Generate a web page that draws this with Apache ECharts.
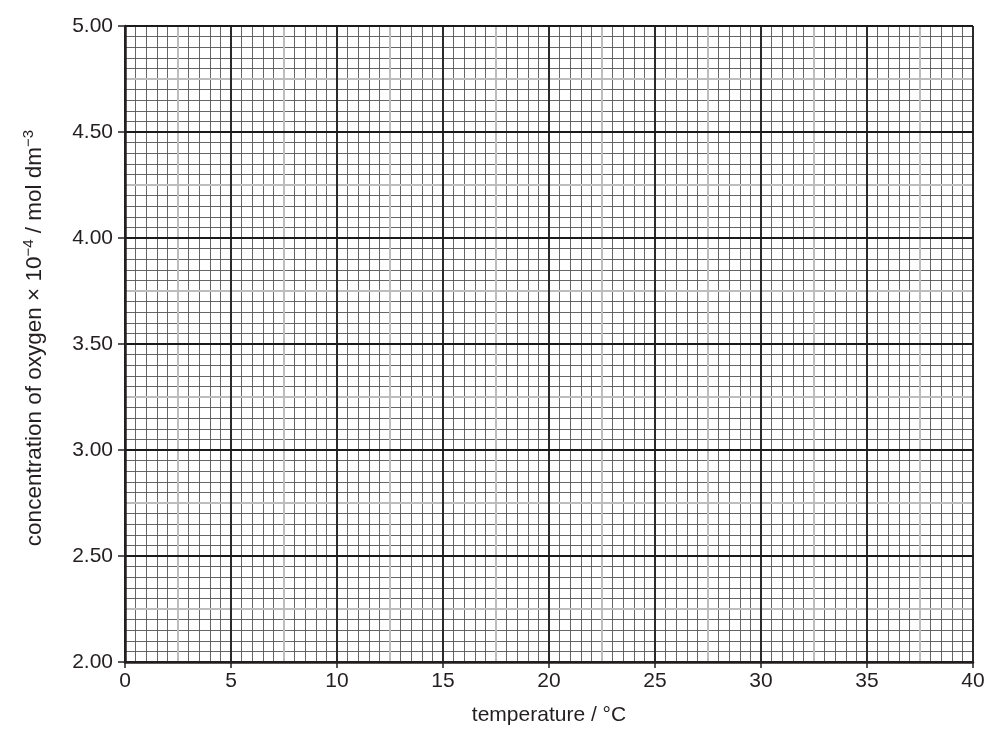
<!DOCTYPE html>
<html>
<head>
<meta charset="utf-8">
<script src="https://cdn.jsdelivr.net/npm/echarts@6/dist/echarts.min.js"></script>
<style>
  html, body { margin: 0; padding: 0; background: #fff; }
  #chart { width: 1001px; height: 735px; }
</style>
</head>
<body>
<div id="chart"></div>
<script>
// tick labels on the two axes
const xLabels = ['0', '5', '10', '15', '20', '25', '30', '35', '40']
const yLabels = ['2.00', '2.50', '3.00', '3.50', '4.00', '4.50', '5.00']
// grid steps: bold / grey / fine
const xSteps = [5, 2.5, 0.5]
const ySteps = [0.5, 0.25, 0.05]
// blank answer grid, nothing plotted yet
const points = []

const font = '"Liberation Sans", Arial, sans-serif'
const ink = '#231f20'

const xMin = Number(xLabels[0]), xMax = Number(xLabels[xLabels.length - 1])
const yMin = Number(yLabels[0]), yMax = Number(yLabels[yLabels.length - 1])

const lineFor = [
  { color: '#1a1a1a', width: 1.8 },
  { color: '#bdbdbd', width: 2 },
  { color: '#555', width: 0.9 }
]

const makeAxis = (dir, i) => {
  const isX = dir === 'x'
  const main = i === 0
  return {
    type: 'value',
    min: isX ? xMin : yMin,
    max: isX ? xMax : yMax,
    interval: isX ? xSteps[i] : ySteps[i],
    z: 3 - i,
    position: isX ? 'bottom' : 'left',
    axisLine: { show: main, onZero: false, lineStyle: { color: ink, width: 2.5 } },
    axisTick: { show: main, length: isX ? 6 : 7, lineStyle: { color: ink, width: 1.5 } },
    axisLabel: {
      show: main,
      margin: isX ? 9 : 12,
      color: ink,
      fontSize: 21,
      fontFamily: font,
      formatter: v => isX ? String(v) : v.toFixed(2)
    },
    splitLine: { show: true, lineStyle: lineFor[i] }
  }
}

const chart = echarts.init(document.getElementById('chart'))

const xAxes = [0, 1, 2].map(i => makeAxis('x', i))
const yAxes = [0, 1, 2].map(i => makeAxis('y', i))

xAxes[0].name = 'temperature / °C'
xAxes[0].nameLocation = 'middle'
xAxes[0].nameGap = 43
xAxes[0].nameTextStyle = { color: ink, fontSize: 21, fontFamily: font }

yAxes[0].name = '{a|concentration of oxygen × 10}{s|−4}{a| / mol dm}{s|−3}'
yAxes[0].nameLocation = 'middle'
yAxes[0].nameGap = 76
yAxes[0].nameTextStyle = {
  color: ink,
  fontFamily: font,
  padding: [0, 0, 0, 12],
  rich: {
    a: { fontSize: 22.5, fontFamily: font, color: ink },
    s: { fontSize: 15, fontFamily: font, color: ink, padding: [0, 0, 13, 0] }
  }
}

chart.setOption({
  animation: false,
  grid: { left: 125, right: 28, top: 26, bottom: 73 },
  xAxis: xAxes,
  yAxis: yAxes,
  series: [{
    type: 'scatter',
    xAxisIndex: 0,
    yAxisIndex: 0,
    data: points
  }]
})
</script>
</body>
</html>
